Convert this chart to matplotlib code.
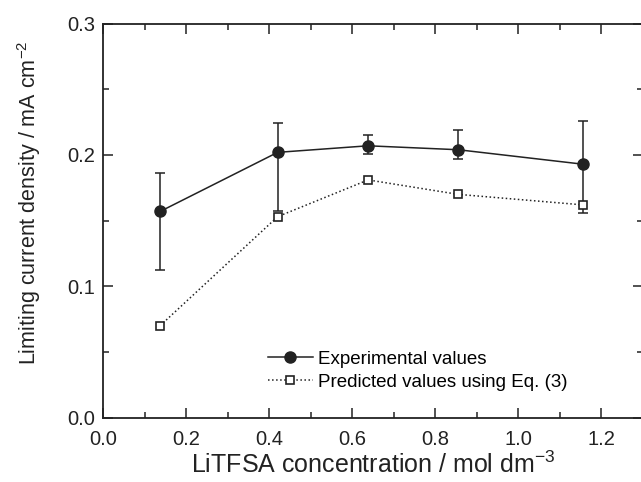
import numpy as np
import matplotlib.pyplot as plt
from matplotlib.ticker import MultipleLocator

plt.rcParams['font.family'] = ['Liberation Sans', 'DejaVu Sans']

# data
conc = [0.137, 0.42, 0.638, 0.855, 1.155]
exp_vals = [0.157, 0.202, 0.207, 0.204, 0.193]
err_low = [0.045, 0.045, 0.006, 0.007, 0.037]
err_high = [0.029, 0.022, 0.008, 0.015, 0.033]
pred_vals = [0.070, 0.153, 0.181, 0.170, 0.162]

ink = '#222222'

fig = plt.figure(figsize=(6.41, 4.82), dpi=100)
ax = fig.add_axes([0.1612, 0.1338, 0.8417, 0.817])

ax.errorbar(conc, exp_vals, yerr=[err_low, err_high], fmt='none', ecolor=ink,
            elinewidth=1.1, capsize=3.5, capthick=1.1)
ax.plot(conc, exp_vals, 'o-', color=ink, markersize=8, lw=1.1,
        label='Experimental values')
ax.plot(conc, pred_vals, 's:', color=ink, mfc='white', mec=ink,
        markersize=5.5, mew=1.2, lw=1.1, label='Predicted values using Eq. (3)')

ax.set_xlim(0, 1.3)
ax.set_ylim(0, 0.3)
ax.xaxis.set_major_locator(MultipleLocator(0.2))
ax.xaxis.set_minor_locator(MultipleLocator(0.1))
ax.yaxis.set_major_locator(MultipleLocator(0.1))
ax.yaxis.set_minor_locator(MultipleLocator(0.05))
ax.tick_params(which='both', direction='in', top=True, right=True, width=1.1,
               labelsize=14.5, colors=ink)
ax.tick_params(which='major', length=7, pad=6)
ax.tick_params(axis='x', which='major', pad=9)
ax.tick_params(which='minor', length=4)
for s in ax.spines.values():
    s.set_linewidth(1.3)
    s.set_color(ink)

ax.set_xlabel('LiTFSA concentration / mol dm$^{\\mathregular{-3}}$', fontsize=18,
              labelpad=2, color=ink)
ax.set_ylabel('Limiting current density / mA cm$^{\\mathregular{-2}}$', fontsize=15.5,
              color=ink)
ax.yaxis.set_label_coords(-0.112, 0.545)

ax.legend(loc='lower left', bbox_to_anchor=(0.28, 0.034), frameon=False, fontsize=13.5,
          handlelength=2.4, handletextpad=0.3, borderpad=0.2, labelspacing=0.33)

plt.savefig('out.png', dpi=100)
